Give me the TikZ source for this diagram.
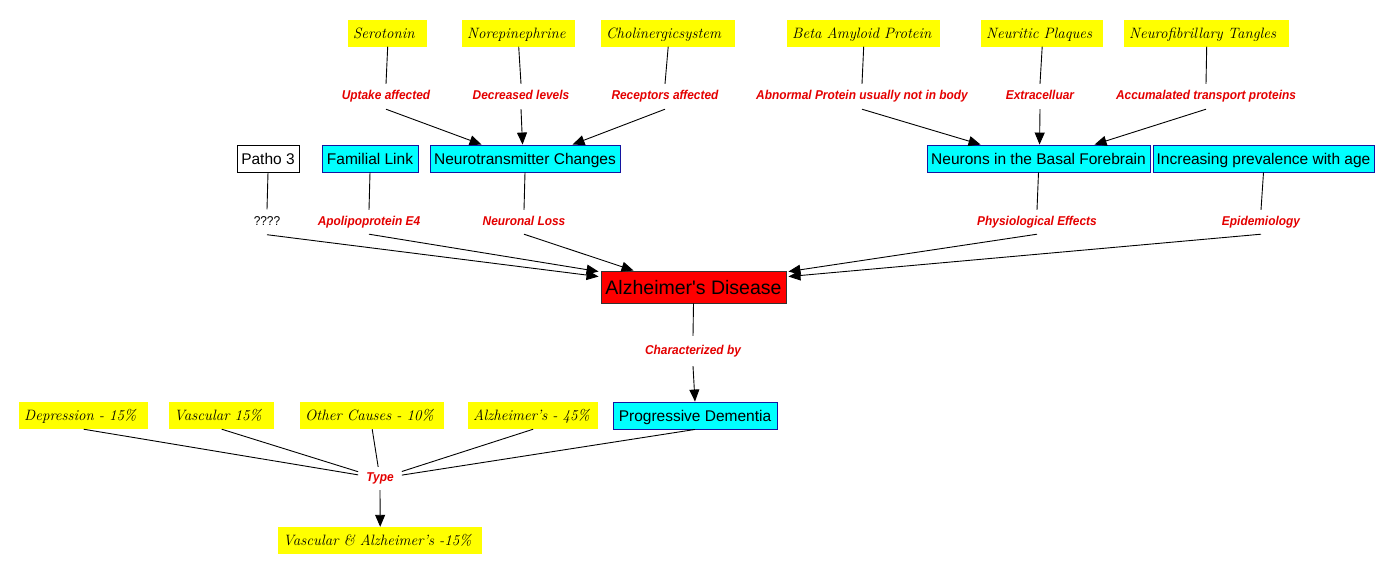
\documentclass[tikz,border=0pt]{standalone}
\usepackage{fontspec}
\newfontfamily\asans{Liberation Sans}
\newfontfamily\rsans[FakeStretch=0.93]{Liberation Sans}
\usetikzlibrary{arrows.meta,calc}
\definecolor{ylw}{RGB}{255,255,0}
\definecolor{cyn}{RGB}{0,255,255}
\definecolor{cbd}{RGB}{20,20,160}
\definecolor{lred}{RGB}{228,0,0}
\definecolor{adred}{RGB}{255,0,0}
\begin{document}
\begin{tikzpicture}[x=1pt,y=-1pt,
  ybox/.style={fill=ylw, anchor=west, minimum height=27, inner xsep=5, inner ysep=0,
    text height=11, text depth=1, text width=#1, align=left,
    font=\itshape\fontsize{15}{17}\selectfont},
  cbox/.style={fill=cyn, draw=cbd, line width=0.9pt, minimum height=27, minimum width=#1,
    inner sep=0, text height=12, text depth=0, font=\asans\fontsize{15.5}{17}\selectfont},
  wbox/.style={cbox=#1, fill=white, draw=black},
  adbox/.style={fill=adred, draw=black!80, line width=0.9pt, minimum height=32, minimum width=185,
    inner sep=0, text height=14, text depth=0, font=\asans\fontsize{19.5}{21}\selectfont},
  elab/.style={inner xsep=2, inner ysep=6.5, text height=9, text depth=3, text=lred,
    font=\rsans\bfseries\itshape\fontsize{12.8}{14}\selectfont},
  plab/.style={elab, text=black, font=\rsans\fontsize{12.8}{14}\selectfont},
  conn/.style={draw=black, line width=0.9pt},
  arr/.style={conn, -{Triangle[length=12pt,width=10pt]}}
]
\fill[white] (0,0) rectangle (1382,574);
\useasboundingbox (0,0) rectangle (1382,574);

% top yellow boxes
\node[ybox=69]  (sero) at (348,33)  {\mbox{Serotonin}};
\node[ybox=103] (nore) at (462,33)  {\mbox{Norepinephrine}};
\node[ybox=124] (chol) at (601,33)  {\mbox{Cholinergicsystem}};
\node[ybox=143] (beta) at (787,33)  {\mbox{Beta Amyloid Protein}};
\node[ybox=112] (neur) at (981,33)  {\mbox{Neuritic Plaques}};
\node[ybox=155] (nfib) at (1124,33) {\mbox{Neurofibrillary Tangles}};

% top edge labels
\node[elab] (l1) at (386,96.5)  {Uptake affected};
\node[elab] (l2) at (521,96.5)  {Decreased levels};
\node[elab] (l3) at (665,96.5)  {Receptors affected};
\node[elab] (l4) at (862,96.5)  {Abnormal Protein usually not in body};
\node[elab] (l5) at (1040,96.5) {Extracelluar};
\node[elab] (l6) at (1206,96.5) {Accumalated transport proteins};

% second row boxes
\node[wbox=62]  (patho) at (268,158.5)    {Patho 3};
\node[cbox=96]  (fam)   at (370,158.5)    {Familial Link};
\node[cbox=190] (nc)    at (525,158.5)    {Neurotransmitter Changes};
\node[cbox=223] (nb)    at (1038.5,158.5) {Neurons in the Basal Forebrain};
\node[cbox=221] (inc)   at (1263.5,158.5) {Increasing prevalence with age};

% middle edge labels
\node[plab] (m1) at (267,222)    {????};
\node[elab, inner ysep=6] (m2) at (369,222)    {Apolipoprotein E4};
\node[elab, inner ysep=6] (m3) at (524,222)    {Neuronal Loss};
\node[elab, inner ysep=6] (m4) at (1037,222)   {Physiological Effects};
\node[elab, inner ysep=6] (m5) at (1261,222)   {Epidemiology};

% central
\node[adbox] (ad) at (693.5,287) {Alzheimer's Disease};
\node[elab, inner ysep=9] (ch) at (693,351) {Characterized by};
\node[cbox=164] (pd) at (695,415.5) {Progressive Dementia};

% bottom yellow boxes
\node[ybox=119] (dep)  at (19,415.5)  {\mbox{Depression - 15\%}};
\node[ybox=95]  (vas)  at (169,415.5) {\mbox{Vascular 15\%}};
\node[ybox=134] (oth)  at (300,415.5) {\mbox{Other Causes - 10\%}};
\node[ybox=120] (alz)  at (468,415.5) {\mbox{Alzheimer's - 45\%}};
\node[elab, inner xsep=8, inner ysep=5.5] (ty) at (380,478.5) {Type};
\node[ybox=194] (va)   at (278,540.5) {\mbox{Vascular \& Alzheimer's -15\%}};

% connectors: top
\draw[conn] (sero.south) -- (l1.north);
\draw[conn] (nore.south) -- (l2.north);
\draw[conn] (chol.south) -- (l3.north);
\draw[arr] (l1.south) -- ([xshift=52pt]nc.north west);
\draw[arr] (l2.south) -- ([xshift=93pt]nc.north west);
\draw[arr] (l3.south) -- ([xshift=143pt]nc.north west);
\draw[conn] (beta.south) -- (l4.north);
\draw[conn] (neur.south) -- (l5.north);
\draw[conn] (nfib.south) -- (l6.north);
\draw[arr] (l4.south) -- ([xshift=54pt]nb.north west);
\draw[arr] (l5.south) -- ([xshift=113pt]nb.north west);
\draw[arr] (l6.south) -- ([xshift=168pt]nb.north west);

% connectors: middle
\draw[conn] (patho.south) -- (m1.north);
\draw[conn] (fam.south) -- (m2.north);
\draw[conn] (nc.south) -- (m3.north);
\draw[conn] (nb.south) -- (m4.north);
\draw[conn] (inc.south) -- (m5.north);
\draw[arr] (m1.south) -- ([shift={(-2,6)}]ad.north west);
\draw[arr] (m2.south) -- ([shift={(-2,1)}]ad.north west);
\draw[arr] (m3.south) -- ([xshift=33pt]ad.north west);
\draw[arr] (m4.south) -- ([shift={(2,1)}]ad.north east);
\draw[arr] (m5.south) -- ([shift={(2,6)}]ad.north east);

% connectors: bottom
\draw[conn] (ad.south) -- (ch.north);
\draw[arr] (ch.south) -- (pd.north);
\draw[conn] (dep.south) -- (ty);
\draw[conn] (vas.south) -- (ty);
\draw[conn] (oth.south) -- (ty);
\draw[conn] (alz.south) -- (ty);
\draw[conn] (pd.south) -- (ty);
\draw[arr] (ty.south) -- (va.north);
\end{tikzpicture}
\end{document}
